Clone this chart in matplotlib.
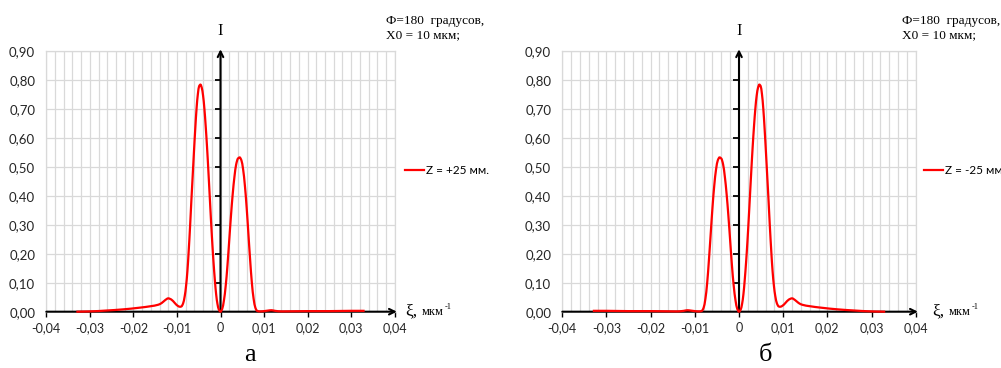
import numpy as np
import matplotlib
matplotlib.use("Agg")
import matplotlib.pyplot as plt
from matplotlib.path import Path
from matplotlib.patches import PathPatch
from matplotlib.lines import Line2D
from matplotlib.ticker import MultipleLocator

# Intensity profile, Z = +25 mm
xi_a = [-0.0331, -0.0300, -0.0262, -0.0224, -0.0185, -0.0160, -0.0143, -0.0135,
        -0.0127, -0.0120, -0.0113, -0.0105, -0.0098, -0.0093, -0.0090, -0.0086,
        -0.0082, -0.0079, -0.0076, -0.0073, -0.0070, -0.0067, -0.0064, -0.0061,
        -0.0058, -0.0055, -0.0052, -0.0049, -0.0046, -0.0043, -0.0040, -0.0037,
        -0.0034, -0.0031, -0.0028, -0.0025, -0.0022, -0.0019, -0.0016, -0.0013,
        -0.0010, -0.0007, -0.0004, 0.0000, 0.0004, 0.0008, 0.0012, 0.0016,
        0.0020, 0.0024, 0.0028, 0.0032, 0.0036, 0.0040, 0.0044, 0.0048,
        0.0052, 0.0056, 0.0060, 0.0064, 0.0068, 0.0072, 0.0076, 0.0080,
        0.0084, 0.0090, 0.0100, 0.0110, 0.0117, 0.0125, 0.0140, 0.0200,
        0.0250, 0.0300, 0.0331]
I_a = [0.000, 0.001, 0.004, 0.008, 0.014, 0.019, 0.024, 0.030,
       0.040, 0.046, 0.042, 0.030, 0.020, 0.017, 0.018, 0.028,
       0.055, 0.090, 0.140, 0.210, 0.290, 0.380, 0.465, 0.550,
       0.630, 0.700, 0.750, 0.778, 0.783, 0.772, 0.745, 0.700,
       0.640, 0.570, 0.490, 0.405, 0.320, 0.240, 0.170, 0.110,
       0.060, 0.027, 0.008, 0.000, 0.010, 0.040, 0.090, 0.160,
       0.245, 0.330, 0.405, 0.465, 0.508, 0.528, 0.532, 0.522,
       0.490, 0.435, 0.360, 0.270, 0.180, 0.100, 0.045, 0.014,
       0.003, 0.001, 0.002, 0.004, 0.005, 0.003, 0.001, 0.002,
       0.002, 0.003, 0.003]

# Intensity profile, Z = -25 mm
xi_b = [-0.0331, -0.0300, -0.0250, -0.0200, -0.0140, -0.0125, -0.0117, -0.0110,
        -0.0100, -0.0090, -0.0084, -0.0080, -0.0076, -0.0072, -0.0068, -0.0064,
        -0.0060, -0.0056, -0.0052, -0.0048, -0.0044, -0.0040, -0.0036, -0.0032,
        -0.0028, -0.0024, -0.0020, -0.0016, -0.0012, -0.0008, -0.0004, 0.0000,
        0.0004, 0.0007, 0.0010, 0.0013, 0.0016, 0.0019, 0.0022, 0.0025,
        0.0028, 0.0031, 0.0034, 0.0037, 0.0040, 0.0043, 0.0046, 0.0049,
        0.0052, 0.0055, 0.0058, 0.0061, 0.0064, 0.0067, 0.0070, 0.0073,
        0.0076, 0.0079, 0.0082, 0.0086, 0.0090, 0.0093, 0.0098, 0.0105,
        0.0113, 0.0120, 0.0127, 0.0135, 0.0143, 0.0160, 0.0185, 0.0224,
        0.0262, 0.0300, 0.0331]
I_b = [0.003, 0.003, 0.002, 0.002, 0.001, 0.003, 0.005, 0.004,
       0.002, 0.001, 0.003, 0.014, 0.045, 0.100, 0.180, 0.270,
       0.360, 0.435, 0.490, 0.522, 0.532, 0.528, 0.508, 0.465,
       0.405, 0.330, 0.245, 0.160, 0.090, 0.040, 0.010, 0.000,
       0.008, 0.027, 0.060, 0.110, 0.170, 0.240, 0.320, 0.405,
       0.490, 0.570, 0.640, 0.700, 0.745, 0.772, 0.783, 0.778,
       0.750, 0.700, 0.630, 0.550, 0.465, 0.380, 0.290, 0.210,
       0.140, 0.090, 0.055, 0.028, 0.018, 0.017, 0.020, 0.030,
       0.042, 0.046, 0.040, 0.030, 0.024, 0.019, 0.014, 0.008,
       0.004, 0.001, 0.000]

series_labels = ["Z = +25 мм.", "Z = -25 мм"]
panel_letters = ["а", "б"]
note_text = "Ф=180  градусов,\nX0 = 10 мкм;"

x_ticks = [-0.04, -0.03, -0.02, -0.01, 0.0, 0.01, 0.02, 0.03, 0.04]
x_tick_labels = ["-0,04", "-0,03", "-0,02", "-0,01", "0", "0,01", "0,02", "0,03", "0,04"]
y_ticks = [0.0, 0.1, 0.2, 0.3, 0.4, 0.5, 0.6, 0.7, 0.8, 0.9]
y_tick_labels = ["0,00", "0,10", "0,20", "0,30", "0,40", "0,50", "0,60", "0,70", "0,80", "0,90"]

W, H = 1001, 368
RED = "#ff0000"
GRID = "#d9d9d9"
TICK_FONT = "Lato"
SERIF = "Liberation Serif"


def smooth_path(x, y):
    """Monotone cubic Bezier path through the data points (smoothed line)."""
    x = np.asarray(x, float)
    y = np.asarray(y, float)
    h = np.diff(x)
    d = np.diff(y) / h
    m = np.zeros_like(y)
    m[0], m[-1] = d[0], d[-1]
    for i in range(1, len(x) - 1):
        if d[i - 1] * d[i] > 0:
            w1 = 2 * h[i] + h[i - 1]
            w2 = h[i] + 2 * h[i - 1]
            m[i] = (w1 + w2) / (w1 / d[i - 1] + w2 / d[i])
    verts = [(x[0], y[0])]
    codes = [Path.MOVETO]
    for i in range(len(x) - 1):
        verts += [(x[i] + h[i] / 3, y[i] + m[i] * h[i] / 3),
                  (x[i + 1] - h[i] / 3, y[i + 1] - m[i + 1] * h[i] / 3),
                  (x[i + 1], y[i + 1])]
        codes += [Path.CURVE4] * 3
    return Path(verts, codes)


fig = plt.figure(figsize=(W / 100, H / 100), dpi=100)

panels = [
    dict(rect=(46.3, 50.7, 394.7, 311.7), x=xi_a, y=I_a, label=series_labels[0],
         letter=panel_letters[0], note_x=386, legend_x=405, xi_x=405, letter_x=250),
    dict(rect=(562.3, 50.7, 915.7, 311.7), x=xi_b, y=I_b, label=series_labels[1],
         letter=panel_letters[1], note_x=902, legend_x=924, xi_x=932, letter_x=765),
]

for p in panels:
    x0, y0, x1, y1 = p["rect"]
    ax = fig.add_axes([x0 / W, 1 - y1 / H, (x1 - x0) / W, (y1 - y0) / H])
    ax.set_xlim(-0.04, 0.04)
    ax.set_ylim(0, 0.9)

    # grid
    ax.xaxis.set_minor_locator(MultipleLocator(0.002))
    ax.grid(which="both", axis="x", color=GRID, lw=0.9, zorder=0)
    ax.grid(which="major", axis="y", color=GRID, lw=0.9, zorder=0)
    ax.set_axisbelow(True)
    for side in ("left", "right", "top"):
        ax.spines[side].set_color(GRID)
        ax.spines[side].set_linewidth(0.9)
    ax.spines["bottom"].set_visible(False)

    # tick labels
    ax.set_xticks(x_ticks, x_tick_labels)
    ax.set_yticks(y_ticks, y_tick_labels)
    ax.tick_params(axis="x", which="major", length=3.5, width=1.0, color="k",
                   pad=4, labelsize=9)
    ax.tick_params(axis="x", which="minor", length=0)
    ax.tick_params(axis="y", length=0, pad=8, labelsize=9.5)
    for t in ax.get_xticklabels() + ax.get_yticklabels():
        t.set_fontfamily(TICK_FONT)
        t.set_color("#262626")

    # axes with arrows
    ax.annotate("", xy=(0.0405, 0), xytext=(-0.04, 0),
                arrowprops=dict(arrowstyle="->", color="k", lw=1.5,
                                shrinkA=0, shrinkB=0, mutation_scale=10),
                annotation_clip=False, zorder=3)
    ax.annotate("", xy=(0, 0.905), xytext=(0, 0),
                arrowprops=dict(arrowstyle="->", color="k", lw=1.5,
                                shrinkA=0, shrinkB=0, mutation_scale=10),
                annotation_clip=False, zorder=3)
    ax.plot([0] * (len(y_ticks) - 2), y_ticks[1:-1], linestyle="none",
            marker=0, markersize=4, markeredgewidth=1.3, color="k", zorder=3)

    # curve
    ax.add_patch(PathPatch(smooth_path(p["x"], p["y"]), fill=False,
                           edgecolor=RED, lw=1.6, zorder=4, clip_on=False))

    # legend
    handle = Line2D([], [], color=RED, lw=1.6)
    fig.legend([handle], [p["label"]], loc="center left",
               bbox_to_anchor=(p["legend_x"] / W, 1 - 171 / H),
               frameon=False, borderpad=0, borderaxespad=0,
               handlelength=1.6, handletextpad=0.15,
               prop=dict(family=TICK_FONT, size=8.5))

    # labels
    fig.text(x0 / W + (x1 - x0) / W / 2, 1 - 35 / H, "I", family=SERIF,
             fontsize=12, ha="center", va="baseline")
    fig.text(p["note_x"] / W, 1 - 38.5 / H, note_text, family=SERIF,
             fontsize=9.5, ha="left", va="baseline", linespacing=1.25)
    fig.text(p["xi_x"] / W, 1 - 315 / H, "ξ,", family=SERIF, fontsize=12.5,
             ha="left", va="baseline")
    fig.text((p["xi_x"] + 17) / W, 1 - 315 / H, "мкм", family=SERIF, fontsize=9,
             ha="left", va="baseline")
    fig.text((p["xi_x"] + 39.5) / W, 1 - 309 / H, "-1", family=SERIF, fontsize=6,
             ha="left", va="baseline")
    fig.text(p["letter_x"] / W, 1 - 361 / H, p["letter"], family=SERIF,
             fontsize=19, ha="center", va="baseline")

fig.savefig("out.png", dpi=100)
